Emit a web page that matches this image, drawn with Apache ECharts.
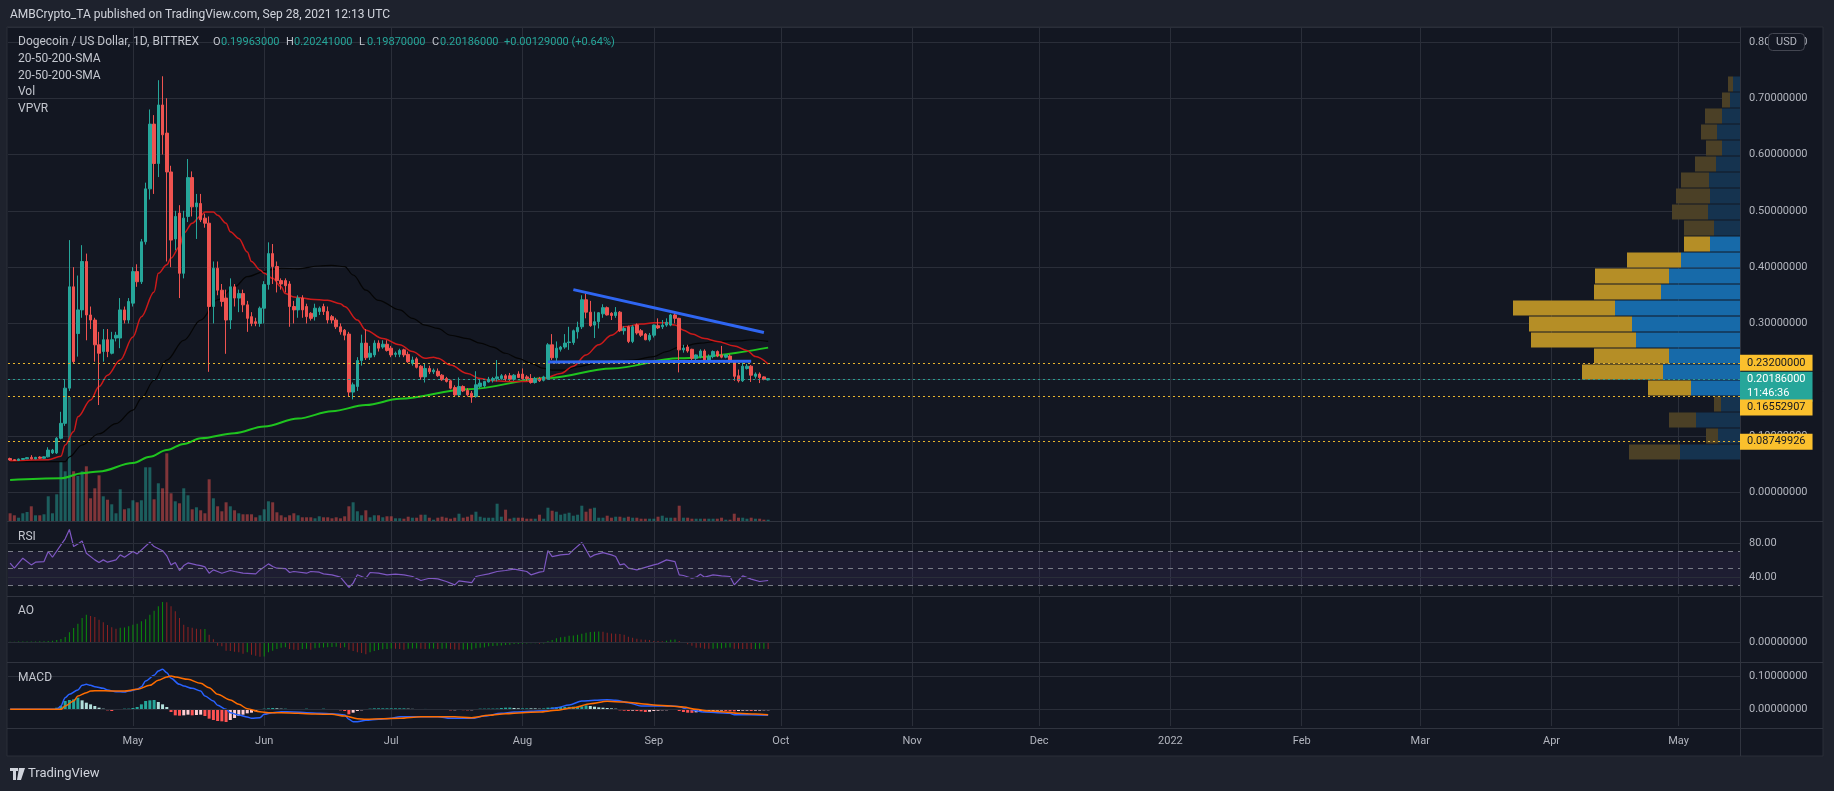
<!DOCTYPE html>
<html><head><meta charset="utf-8">
<script src="https://cdn.jsdelivr.net/npm/echarts@6/dist/echarts.min.js"></script>
<style>html,body{margin:0;padding:0;background:#1e222d;overflow:hidden}#c{width:1834px;height:791px}</style>
</head><body><div id="c"></div><script>
// ---------- DATA ----------
const startDate = '2021-04-02';
const dayCount = 409;
const tickDates = ['2021-05-01','2021-06-01','2021-07-01','2021-08-01','2021-09-01','2021-10-01','2021-11-01','2021-12-01','2022-01-01','2022-02-01','2022-03-01','2022-04-01','2022-05-01'];
const tickLabels = ['May','Jun','Jul','Aug','Sep','Oct','Nov','Dec','2022','Feb','Mar','Apr','May'];

const open = [.0600,.0580,.0565,.0585,.0595,.0620,.0595,.0625,.0605,.0630,
 .070,.070,.096,.1225,.185,.365,.282,.324,.410,.315,
 .306,.262,.250,.271,.247,.274,.274,.324,.306,.336,
 .392,.374,.445,.539,.654,.584,.688,.638,.569,.450,
 .496,.389,.490,.559,.507,.513,.487,.478,.330,.398,
 .359,.345,.306,.365,.345,.353,.333,.312,.303,.300,
 .327,.369,.424,.401,.376,.376,.370,.330,.324,.345,
 .330,.318,.312,.321,.330,.321,.312,.306,.294,.288,
 .281,.178,.188,.234,.265,.240,.244,.265,.258,.263,
 .256,.245,.245,.253,.245,.229,.237,.224,.205,.220,
 .214,.215,.208,.202,.198,.186,.173,.188,.181,.176,
 .170,.188,.189,.196,.199,.202,.202,.207,.207,.201,
 .210,.210,.205,.202,.195,.202,.199,.202,.262,.239,
 .254,.258,.266,.266,.285,.294,.342,.320,.297,.303,
 .317,.328,.318,.314,.320,.287,.294,.268,.297,.287,
 .281,.271,.279,.296,.294,.297,.297,.315,.309,.253,
 .258,.254,.238,.241,.251,.235,.241,.250,.244,.240,
 .242,.232,.207,.198,.220,.224,.206,.210,.205,.19963];
const high = [.0615,.0590,.0600,.0605,.0625,.0660,.0630,.0640,.0640,.0800,
 .077,.098,.143,.200,.448,.400,.385,.439,.424,.330,
 .310,.285,.290,.290,.285,.285,.345,.330,.345,.400,
 .405,.450,.550,.680,.670,.732,.739,.700,.580,.500,
 .510,.500,.592,.570,.530,.530,.495,.490,.410,.410,
 .370,.360,.380,.370,.360,.360,.340,.320,.310,.330,
 .375,.444,.441,.410,.380,.380,.375,.340,.350,.350,
 .335,.320,.335,.330,.335,.330,.315,.310,.300,.290,
 .285,.195,.240,.280,.290,.260,.270,.270,.270,.270,
 .260,.250,.255,.255,.250,.241,.240,.226,.229,.225,
 .220,.220,.210,.205,.200,.190,.204,.190,.185,.180,
 .215,.200,.198,.205,.205,.235,.210,.210,.212,.210,
 .215,.220,.208,.210,.205,.205,.207,.265,.281,.268,
 .260,.281,.294,.289,.303,.350,.353,.340,.321,.320,
 .334,.330,.320,.329,.322,.295,.296,.297,.300,.290,
 .283,.283,.298,.309,.306,.309,.317,.321,.310,.262,
 .262,.255,.245,.254,.254,.245,.252,.252,.260,.245,
 .245,.233,.218,.230,.228,.226,.213,.213,.206,.20241];
const low = [.0560,.0560,.0555,.0575,.0590,.0585,.0585,.0595,.0600,.0620,
 .068,.068,.094,.118,.180,.228,.241,.310,.270,.290,
 .232,.155,.232,.240,.245,.268,.256,.300,.300,.330,
 .365,.370,.440,.520,.530,.560,.600,.410,.400,.430,
 .345,.380,.480,.490,.450,.480,.470,.214,.300,.350,
 .330,.246,.290,.330,.320,.320,.285,.295,.295,.294,
 .300,.360,.370,.355,.360,.355,.294,.300,.310,.310,
 .300,.305,.305,.315,.315,.300,.300,.290,.280,.270,
 .170,.165,.180,.225,.235,.235,.240,.250,.255,.250,
 .240,.240,.240,.240,.230,.225,.220,.200,.195,.210,
 .210,.205,.198,.195,.183,.170,.169,.178,.170,.159,
 .168,.185,.186,.195,.195,.197,.200,.198,.198,.198,
 .203,.200,.198,.193,.193,.196,.197,.200,.235,.229,
 .250,.255,.253,.262,.273,.290,.309,.294,.274,.291,
 .310,.314,.306,.310,.285,.280,.265,.265,.280,.276,
 .270,.268,.275,.290,.290,.294,.295,.300,.213,.248,
 .248,.235,.235,.238,.228,.232,.238,.240,.238,.238,
 .228,.198,.195,.196,.218,.196,.202,.194,.199,.1987];
const close = [.0575,.0565,.0590,.0600,.0615,.0595,.0620,.0605,.0630,.0750,
 .075,.096,.1225,.185,.365,.232,.324,.410,.315,.306,
 .262,.247,.271,.250,.271,.279,.324,.306,.339,.392,
 .374,.445,.539,.654,.584,.688,.635,.569,.448,.490,
 .389,.487,.559,.507,.514,.484,.478,.330,.398,.359,
 .339,.306,.365,.345,.353,.333,.309,.300,.300,.327,
 .369,.424,.401,.376,.370,.367,.330,.324,.345,.324,
 .312,.309,.327,.327,.321,.306,.306,.294,.285,.279,
 .178,.191,.234,.265,.239,.247,.265,.256,.263,.252,
 .244,.247,.252,.244,.232,.235,.222,.205,.220,.214,
 .217,.207,.200,.197,.185,.173,.188,.180,.173,.169,
 .191,.194,.197,.201,.202,.205,.207,.202,.201,.208,
 .204,.202,.202,.195,.202,.198,.205,.262,.239,.256,
 .258,.265,.267,.287,.293,.342,.320,.296,.303,.319,
 .328,.315,.314,.320,.287,.291,.268,.294,.283,.279,
 .271,.279,.297,.292,.297,.302,.315,.309,.253,.256,
 .251,.238,.244,.251,.235,.241,.250,.242,.240,.244,
 .232,.206,.198,.224,.224,.208,.210,.204,.20057,.20186];
const volume = [7.7,5.7,3.3,7.7,9,14.7,5.7,5.7,6.7,24.7,
 7.7,26.7,59.7,49.7,124,49.7,45,49.7,54.7,22.7,
 32.7,45.7,24.7,21.3,16.7,7.7,31.7,11.7,12.7,20.7,
 18.7,20.7,53.7,53.7,21.7,37.7,32.7,67.7,27.7,19.7,
 17.7,32.7,25.7,11.7,13.7,10.7,7.7,41.7,22.7,14.7,
 9.7,18.7,14.7,10.7,7.7,6.7,6.7,6.7,3.7,5.7,
 11.7,19.7,18.7,8.7,5.7,3.7,5.7,7.7,5.7,3.7,
 3.7,3.7,2.7,4.7,3.7,3.7,2.7,3.7,2.7,4.7,
 14.7,18.7,9.7,5.7,10.7,3.7,5.7,5.7,3.7,4.7,
 4.7,2.7,2.7,2.3,4.3,3.3,3.3,6.3,6.3,3.3,
 1.3,3.3,4.3,3.3,2.3,3.3,7.3,3.3,4.3,6.3,
 9.3,4.3,3.3,3.3,3.3,17.3,4.3,11.3,2.3,3.3,
 3.3,3.3,2.3,2.3,2.3,6.3,2.3,13.3,10.3,9.3,
 6.3,7.3,8.3,5.3,6.3,15.3,9.3,12.3,13.3,3.3,
 3.3,5.3,3.3,4.3,4.3,3.3,4.3,3.3,3.3,2.3,
 2.3,2.3,2.3,4.3,5.3,3.3,3.3,3.3,15.3,3.3,
 3.3,2.3,2.3,2.3,2.3,2.3,2.3,2.3,3.3,1.3,
 1.3,7.3,3.3,3.3,2.3,3.3,2.3,2.3,1.3,1.3];

// moving averages: [candle index, price]
const sma20 = [[0,.056],[9,.058],[12,.064],[13,.084],[15,.108],[16,.134],[19,.164],[21,.188],[23,.208],[26,.235],[29,.276],[31,.312],[34,.356],[35,.389],[37,.404],[38,.416],[40,.436],[41,.46],[43,.478],[45,.491],[46,.498],[48,.498],[49,.492],[51,.478],[52,.463],[54,.451],[56,.427],[57,.41],[59,.395],[60,.389],[62,.38],[64,.365],[65,.353],[67,.347],[68,.346],[71,.343],[75,.341],[78,.335],[79,.33],[82,.306],[84,.288],[88,.273],[92,.262],[95,.25],[98,.238],[100,.24],[101,.238],[104,.226],[108,.211],[111,.202],[114,.198],[117,.197],[122,.197],[126,.202],[130,.211],[133,.224],[136,.244],[139,.262],[142,.279],[145,.294],[149,.299],[152,.301],[155,.301],[157,.297],[159,.288],[161,.281],[164,.273],[167,.268],[171,.26],[174,.252],[176,.241],[179,.228]];
const sma50 = [[0,.0545],[13,.0545],[14,.063],[17,.084],[21,.104],[25,.122],[29,.146],[31,.167],[34,.199],[37,.235],[41,.27],[45,.306],[49,.342],[53,.365],[56,.383],[60,.392],[62,.396],[64,.398],[68,.397],[73,.402],[76,.403],[79,.401],[81,.386],[84,.359],[87,.341],[92,.324],[95,.309],[98,.297],[101,.291],[104,.279],[108,.273],[111,.265],[114,.258],[117,.247],[120,.238],[123,.229],[126,.22],[128,.217],[131,.217],[134,.223],[138,.229],[142,.233],[147,.235],[152,.241],[155,.25],[158,.258],[163,.265],[167,.268],[172,.269],[175,.271],[179,.268]];
const sma200 = [[0,.022],[12,.025],[17,.034],[21,.037],[29,.052],[33,.063],[37,.075],[41,.086],[45,.096],[53,.105],[60,.117],[68,.131],[76,.144],[84,.155],[92,.166],[108,.183],[127,.203],[142,.22],[158,.238],[179,.257]];

// drawn trend lines: [candle index, price]
const trendDown = [[133,.360],[178,.284]];
const trendFlat = [[127,.2315],[175,.233]];

// horizontal levels
const levelValues = [0.232, 0.16552907, 0.08749926];
const countdown = '11:46:36';

// VPVR (bins low -> high)
const vpvrBins = ['0.057','0.086','0.114','0.143','0.171','0.200','0.228','0.256','0.285','0.313','0.342','0.370','0.398','0.427','0.455','0.484','0.512','0.541','0.569','0.598','0.626','0.654','0.683','0.711'];
const vpvrUp =   [60,22,44,19,49,77,71,104,108,125,79,71,59,30,26,32,30,31,24,18,23,18,10,7];
const vpvrDown = [51,12,27,7,43,81,75,105,103,102,67,74,54,26,30,36,34,28,21,16,16,17,8,5];
const vpvrValueArea = [4, 13];

// RSI: [candle index, value]
const rsi = [[0,56.3],[1,50.4],[2,56.3],[3,62.2],[5,54.3],[6,57.5],[8,58.2],[9,70],[10,63.3],[12,77.8],[13,85],[14,96],[15,75.9],[16,79],[17,82.5],[18,68],[20,60.2],[21,57],[22,60.2],[23,57.5],[25,60.2],[26,66.1],[27,63.3],[29,70],[30,67.3],[33,81],[34,75.9],[36,71],[37,65],[38,54.3],[39,57],[40,47.6],[41,53.5],[42,56.6],[44,54.3],[45,53.5],[46,52],[47,44.5],[48,48.4],[49,46.5],[50,44.5],[52,47.7],[53,46.5],[55,44.5],[58,43.7],[59,48.4],[61,55.5],[62,52.4],[63,50.4],[65,50],[66,45.3],[67,46.5],[70,44.5],[71,46.5],[73,45.7],[74,43.7],[76,42.6],[78,39.8],[80,27.7],[81,32.8],[82,42.6],[84,38.6],[85,45.3],[87,44.5],[89,42.6],[91,43.3],[93,42.6],[95,40.6],[97,35.9],[99,38.6],[101,37.8],[103,34.7],[105,30.8],[106,35.5],[109,33.5],[110,40.6],[111,41.8],[113,43.7],[115,46.5],[117,47.7],[119,49.2],[120,48.4],[122,46.5],[123,42.6],[125,45.7],[126,46.5],[127,71.2],[128,64.1],[130,66.1],[132,66.9],[133,72],[135,80.6],[137,63.3],[138,66.1],[140,68.8],[142,66.1],[143,64.1],[144,54.3],[145,55.5],[146,50.4],[148,48.4],[152,54.3],[153,55.5],[155,60.2],[157,58.2],[158,42.6],[159,41.8],[161,38.6],[162,39.8],[163,43.3],[164,39.8],[166,42.6],[168,41.4],[170,40.6],[171,30.8],[173,41.4],[175,37.5],[177,34.7],[179,35.9]];

// Awesome Oscillator (one per candle)
const ao = [0.3,0.3,0.4,0.4,0.5,0.6,0.6,0.7,0.8,1.0,
 1.3,2,3,5,9.7,14,18.3,24,27.3,26,
 25,22.3,19.7,17,14.7,13.3,14.3,14.5,15.7,17.3,
 18.3,20.7,22.7,27.3,31.3,35.7,40,39.7,35.7,30.7,
 24,17.3,15,14.3,13.3,12.7,12.9,7.3,2.7,-3.7,
 -4.3,-8.7,-9,-9.7,-10.3,-11.7,-10.3,-12.7,-13.7,-14.7,
 -14.5,-10.3,-8.7,-7,-5.7,-5.3,-7,-7.7,-7.9,-7,
 -6.8,-7.7,-6.3,-5.7,-5.5,-5.3,-5,-4.8,-6,-5.3,
 -7.7,-9,-10.3,-11,-12.3,-10.3,-9,-8,-7.3,-7,
 -6.5,-6.7,-6.9,-7.7,-6.7,-6.6,-6.5,-6.8,-7,-6.7,
 -6.6,-6.9,-6.7,-6.6,-6.9,-7.5,-7.8,-7.6,-7.5,-7.4,
 -6.3,-5.7,-5.5,-4.3,-3.9,-3.7,-3.5,-3,-2.7,-2,
 -1.9,-1.7,-1.6,-1.3,-1.2,-1.7,-1.5,1,2,3.7,
 4.7,5.3,6.3,6.5,7.3,8.3,9.3,10.1,10.3,10.5,
 10.3,9.3,8.5,8.3,8.1,7.3,5.3,4.3,3.3,2.5,
 2.3,2.1,1,0.9,0.8,1.3,2.3,2.4,1,-1,
 -2.3,-3.7,-5.7,-5.8,-6.7,-6.8,-6.7,-6.6,-6.5,-5.7,
 -5.6,-6.7,-6.8,-6.9,-7.0,-7.1,-6.9,-6.8,-6.7,-6.9];

// MACD: lines as [candle index, value], histogram per candle
const macdLine = [[0,0],[11,0],[12,.010],[13,.035],[14,.045],[16,.058],[17,.072],[18,.075],[19,.072],[20,.068],[22,.063],[23,.058],[25,.053],[27,.052],[28,.055],[30,.060],[31,.068],[32,.085],[34,.102],[35,.115],[36,.120],[37,.110],[38,.093],[40,.075],[41,.070],[43,.063],[45,.055],[46,.040],[48,.025],[49,.012],[51,0],[52,-.010],[54,-.017],[56,-.023],[57,-.027],[59,-.025],[60,-.015],[62,-.010],[64,-.007],[67,-.008],[70,-.010],[73,-.012],[76,-.013],[79,-.017],[80,-.030],[81,-.037],[82,-.037],[84,-.033],[87,-.030],[90,-.027],[92,-.022],[97,-.022],[101,-.022],[104,-.027],[109,-.027],[112,-.020],[116,-.012],[119,-.008],[123,-.006],[126,-.004],[129,.005],[132,.013],[135,.025],[138,.027],[141,.029],[143,.027],[146,.020],[149,.010],[153,.010],[156,.010],[158,.008],[160,0],[164,-.008],[167,-.010],[170,-.012],[171,-.016],[175,-.016],[179,-.018]];
const signalLine = [[0,0],[12,0],[13,.010],[15,.025],[16,.040],[18,.050],[19,.055],[21,.056],[24,.055],[27,.055],[30,.060],[33,.072],[35,.087],[37,.097],[38,.100],[39,.097],[42,.090],[45,.078],[47,.065],[49,.045],[52,.028],[54,.015],[56,.002],[59,-.007],[61,-.010],[64,-.010],[68,-.012],[72,-.014],[76,-.015],[79,-.020],[82,-.028],[84,-.030],[88,-.028],[92,-.027],[97,-.022],[105,-.022],[109,-.025],[113,-.018],[117,-.013],[121,-.010],[125,-.008],[129,-.003],[133,.005],[137,.017],[141,.024],[145,.022],[149,.017],[152,.013],[156,.010],[159,.007],[162,0],[165,-.005],[168,-.007],[172,-.012],[176,-.014],[179,-.016]];
const macdHist = [0,0,0,0,0,0,0,0,0,0,
 0,.005,.010,.025,.028,.030,.035,.027,.020,.015,
 .010,.005,.002,-.003,-.005,-.002,-.001,.002,.002,.004,
 .007,.015,.025,.027,.028,.022,.015,.007,-.008,-.018,
 -.019,-.018,-.016,-.018,-.017,-.016,-.020,-.028,-.032,-.035,
 -.036,-.038,-.032,-.026,-.020,-.016,-.012,-.010,-.006,-.002,
 .002,.003,.004,.003,.002,.002,-.001,-.002,-.001,.001,
 .002,.001,-.001,.001,.002,.001,-.001,-.002,-.003,-.005,
 -.015,-.010,-.005,-.003,-.002,.002,.003,.003,.003,.003,
 .003,.003,.003,.003,.002,.0015,.001,.001,.0012,.001,
 .0009,.0008,.0005,-.002,-.003,-.0028,-.002,-.0025,-.003,-.0028,
 .001,.002,.0021,.0022,.0023,.0024,.004,.005,.0052,.004,
 .003,.003,.003,.0029,.0028,.002,.003,.005,.006,.0062,
 .007,.0072,.0074,.008,.0082,.009,.012,.010,.008,.006,
 .005,.004,.003,.002,-.003,-.004,-.005,-.004,-.005,-.006,
 -.008,-.007,-.005,-.004,-.003,-.0028,-.002,-.0018,-.005,-.008,
 -.010,-.0105,-.009,-.007,-.006,-.005,-.0048,-.004,-.0038,-.005,
 -.006,-.0062,-.005,-.004,-.0038,-.005,-.004,-.0038,-.003,-.0028];

// ---------- BUILD ----------
const cats = [];
const t0 = Date.parse(startDate + 'T00:00:00Z');
for (let i = 0; i < dayCount; i++) cats.push(new Date(t0 + i * 86400000).toISOString().slice(0, 10));
const tickMap = {};
tickDates.forEach((d, i) => tickMap[d] = tickLabels[i]);
const isTick = (i, v) => tickMap[v] !== undefined;

const UP = '#26a69a', DOWN = '#ef5350', GRID = '#2a2e39', TXT = '#b2b5be', FONT = 'Roboto';
const candleData = open.map((o, i) => [o, close[i], low[i], high[i]]);
const volData = volume.map((v, i) => ({value: v, itemStyle: {color: close[i] >= open[i] ? 'rgba(38,166,154,0.5)' : 'rgba(239,83,80,0.5)'}}));
const aoData = ao.map((v, i) => ({value: v, itemStyle: {color: (i === 0 || v >= ao[i - 1]) ? '#0b8f0b' : '#8e2222'}}));
const histData = macdHist.map((v, i) => {
  const p = i ? macdHist[i - 1] : 0;
  let c = v >= 0 ? (v >= p ? '#26a69a' : '#b2dfdb') : (v < p ? '#ff5252' : '#ffcdd2');
  return {value: v, itemStyle: {color: c}};
});
const inVA = i => i >= vpvrValueArea[0] && i <= vpvrValueArea[1];
const vpUpData = vpvrUp.map((v, i) => ({value: v, itemStyle: {color: inVA(i) ? '#176aa9' : '#15334f'}}));
const vpDnData = vpvrDown.map((v, i) => ({value: v, itemStyle: {color: inVA(i) ? '#b58e26' : '#4b4026'}}));

function catAxis(gi, labels) {
  return {type: 'category', gridIndex: gi, data: cats, boundaryGap: true,
    axisLine: {show: false}, axisTick: {show: false},
    axisLabel: {show: labels, interval: isTick, formatter: v => tickMap[v] || '', color: TXT, fontSize: 11, fontFamily: FONT, margin: 10},
    splitLine: {show: true, interval: isTick, alignWithLabel: true, lineStyle: {color: GRID, width: 1}}};
}
function valAxis(gi, min, max, interval, fmt, split) {
  return {type: 'value', gridIndex: gi, position: 'right', min, max, interval, scale: false,
    axisLine: {show: false}, axisTick: {show: false},
    axisLabel: {show: !!fmt, formatter: fmt, color: TXT, fontSize: 11, fontFamily: FONT, margin: 9},
    splitLine: {show: !!split, lineStyle: {color: GRID, width: 1}}};
}
const near = (a, b) => Math.abs(a - b) < 1e-9;
const gl = v => ({yAxis: v, lineStyle: {color: GRID, type: 'solid', width: 1}, label: {show: false}});
const smaStyle = (data, color, width) => ({type: 'line', xAxisIndex: 0, yAxisIndex: 0, data, showSymbol: false, smooth: 0.35, smoothMonotone: 'x', lineStyle: {color, width}, z: 3});

const last = close.length - 1;
const lastClose = close[last];
const lvlLabel = (txt, bg, fg, extra) => Object.assign({show: true, position: 'end', distance: 0, formatter: txt, backgroundColor: bg, color: fg, fontSize: 11, fontFamily: FONT, padding: [2, 7], lineHeight: 12}, extra || {});

const option = {
  backgroundColor: '#1e222d',
  animation: false,
  grid: [
    {left: 8, top: 27, width: 1732, height: 465.3, outerBoundsMode: 'none'},
    {left: 8, top: 271, width: 1732, height: 250, outerBoundsMode: 'none'},
    {left: 1440, top: 76, width: 300, height: 384, outerBoundsMode: 'none'},
    {left: 8, top: 521, width: 1732, height: 73, outerBoundsMode: 'none'},
    {left: 8, top: 596, width: 1732, height: 66, outerBoundsMode: 'none'},
    {left: 8, top: 662.7, width: 1732, height: 63.3, outerBoundsMode: 'none'}
  ],
  xAxis: [
    catAxis(0, false), catAxis(1, false),
    {type: 'value', gridIndex: 2, min: 0, max: 300, inverse: true, show: false},
    catAxis(3, false), catAxis(4, false), catAxis(5, true)
  ],
  yAxis: [
    valAxis(0, 0, 0.8265, 0.1, v => near(v * 10, Math.round(v * 10)) ? v.toFixed(8) : '', true),
    {type: 'value', gridIndex: 1, min: 0, max: 250, show: false},
    {type: 'category', gridIndex: 2, data: vpvrBins, show: false},
    valAxis(3, 20, 106, 20, v => (near(v, 40) || near(v, 80)) ? v.toFixed(2) : '', false),
    valAxis(4, -20, 46, 20, v => near(v, 0) ? '0.00000000' : '', false),
    valAxis(5, -0.05, 0.14, 0.05, v => (near(v, 0) || near(v, 0.1)) ? Math.abs(v).toFixed(8) : '', false)
  ],
  series: [
    {type: 'bar', xAxisIndex: 1, yAxisIndex: 1, data: volData, barWidth: 3, z: 1},
    {type: 'bar', xAxisIndex: 2, yAxisIndex: 2, stack: 'vp', data: vpUpData, barCategoryGap: '6%', z: 1},
    {type: 'bar', xAxisIndex: 2, yAxisIndex: 2, stack: 'vp', data: vpDnData, barCategoryGap: '6%', z: 1},
    smaStyle(sma200, '#1fc41f', 2),
    smaStyle(sma50, '#050505', 1.2),
    smaStyle(sma20, '#cc1a1a', 1.5),
    {type: 'candlestick', xAxisIndex: 0, yAxisIndex: 0, data: candleData, barWidth: 3, z: 4,
      itemStyle: {color: UP, color0: DOWN, borderColor: UP, borderColor0: DOWN, borderWidth: 1},
      markLine: {silent: true, symbol: ['none', 'none'], animation: false,
        lineStyle: {type: [2, 3], width: 1},
        data: [
          {yAxis: levelValues[0], lineStyle: {color: '#e8b52d'}, label: lvlLabel(levelValues[0].toFixed(8), '#fbc02d', '#131722')},
          {yAxis: lastClose, lineStyle: {color: '#2a9d92'}, label: lvlLabel(lastClose.toFixed(8) + '\n' + countdown, '#26a69a', '#ffffff', {offset: [0, 7], lineHeight: 14, padding: [1, 7]})},
          {yAxis: levelValues[1], lineStyle: {color: '#e8b52d'}, label: lvlLabel(levelValues[1].toFixed(8), '#fbc02d', '#131722', {offset: [0, 11]})},
          {yAxis: levelValues[2], lineStyle: {color: '#e8b52d'}, label: lvlLabel(levelValues[2].toFixed(8), '#fbc02d', '#131722')}
        ]}},
    {type: 'line', xAxisIndex: 0, yAxisIndex: 0, data: trendDown, showSymbol: false, lineStyle: {color: '#2f66f2', width: 3}, z: 6},
    {type: 'line', xAxisIndex: 0, yAxisIndex: 0, data: trendFlat, showSymbol: false, lineStyle: {color: '#2f66f2', width: 3}, z: 6},
    {type: 'line', xAxisIndex: 3, yAxisIndex: 3, data: rsi, showSymbol: false, lineStyle: {color: '#7e57c2', width: 1.2}, z: 3,
      markArea: {silent: true, itemStyle: {color: 'rgba(126,87,194,0.1)'}, data: [[{yAxis: 30}, {yAxis: 70}]]},
      markLine: {silent: true, symbol: ['none', 'none'], label: {show: false},
        data: [gl(80), gl(40),
          {yAxis: 70, lineStyle: {color: '#787b86', type: [5, 5], width: 1}},
          {yAxis: 50, lineStyle: {color: '#787b86', type: [5, 5], width: 1}},
          {yAxis: 30, lineStyle: {color: '#787b86', type: [5, 5], width: 1}}]}},
    {type: 'bar', xAxisIndex: 4, yAxisIndex: 4, data: aoData, barWidth: 1, z: 3,
      markLine: {silent: true, symbol: ['none', 'none'], label: {show: false}, data: [gl(0)]}},
    {type: 'bar', xAxisIndex: 5, yAxisIndex: 5, data: histData, barWidth: 3, z: 3,
      markLine: {silent: true, symbol: ['none', 'none'], label: {show: false}, data: [gl(0), gl(0.1)]}},
    {type: 'line', xAxisIndex: 5, yAxisIndex: 5, data: macdLine, showSymbol: false, smooth: 0.3, smoothMonotone: 'x', lineStyle: {color: '#2962ff', width: 1.5}, z: 4},
    {type: 'line', xAxisIndex: 5, yAxisIndex: 5, data: signalLine, showSymbol: false, smooth: 0.3, smoothMonotone: 'x', lineStyle: {color: '#ff6d00', width: 1.5}, z: 5}
  ],
  graphic: (function () {
    const g = [];
    const T = (text, x, y, fill, size, extra) => g.push(Object.assign({type: 'text', silent: true, z: 100,
      style: {text, x, y, fill, font: (size || 12) + 'px ' + FONT, verticalAlign: 'middle', align: 'left'}}, extra || {}));
    g.push({type: 'rect', silent: true, z: -10, shape: {x: 7, y: 27, width: 1816, height: 729}, style: {fill: '#131722', stroke: '#2a2e39', lineWidth: 1}});
    [521.5, 596.5, 662.5, 728.5].forEach(y => g.push({type: 'line', silent: true, z: 1, shape: {x1: 7, y1: y, x2: 1823, y2: y}, style: {stroke: '#30343f', lineWidth: 1}}));
    g.push({type: 'line', silent: true, z: 1, shape: {x1: 1740.5, y1: 27, x2: 1740.5, y2: 756}, style: {stroke: '#30343f', lineWidth: 1}});
    T('AMBCrypto_TA published on TradingView.com, Sep 28, 2021 12:13 UTC', 10, 15, '#d1d4dc', 12);
    T('Dogecoin / US Dollar, 1D, BITTREX', 18, 42, '#c3c6ce', 12);
    const ohlc = [['O', 213, open[last]], ['H', 286, high[last]], ['L', 359, low[last]], ['C', 432, close[last]]];
    ohlc.forEach(o => { T(o[0], o[1], 42, '#c3c6ce', 11); T(o[2].toFixed(8), o[1] + 8, 42, UP, 11); });
    const ch = close[last] - close[last - 1];
    T('+' + ch.toFixed(8) + ' (+' + (ch / close[last - 1] * 100).toFixed(2) + '%)', 504, 42, UP, 11);
    T('20-50-200-SMA', 18, 59, '#c3c6ce', 12);
    T('20-50-200-SMA', 18, 76, '#c3c6ce', 12);
    T('Vol', 18, 92, '#c3c6ce', 12);
    T('VPVR', 18, 109, '#c3c6ce', 12);
    T('RSI', 18, 537, '#c3c6ce', 12);
    T('AO', 18, 611, '#c3c6ce', 12);
    T('MACD', 18, 678, '#c3c6ce', 12);
    g.push({type: 'rect', silent: true, z: 100, shape: {x: 1768.5, y: 33.5, width: 36, height: 17, r: 4}, style: {fill: '#131722', stroke: '#434651', lineWidth: 1}});
    T('USD', 1786.5, 42, TXT, 11, {style: {text: 'USD', x: 1786.5, y: 42, fill: TXT, font: '11px ' + FONT, verticalAlign: 'middle', align: 'center'}});
    // TradingView logo
    g.push({type: 'rect', silent: true, z: 100, shape: {x: 10, y: 768, width: 8, height: 3}, style: {fill: '#d1d4dc'}});
    g.push({type: 'rect', silent: true, z: 100, shape: {x: 13, y: 768, width: 3, height: 12}, style: {fill: '#d1d4dc'}});
    g.push({type: 'polygon', silent: true, z: 100, shape: {points: [[19, 768], [25, 768], [21, 780], [17, 780]]}, style: {fill: '#d1d4dc'}});
    T('TradingView', 28, 774, '#d1d4dc', 13);
    return g;
  })()
};
const chart = echarts.init(document.getElementById('c'), null, {renderer: 'canvas', width: 1834, height: 791});
chart.setOption(option);
</script></body></html>
